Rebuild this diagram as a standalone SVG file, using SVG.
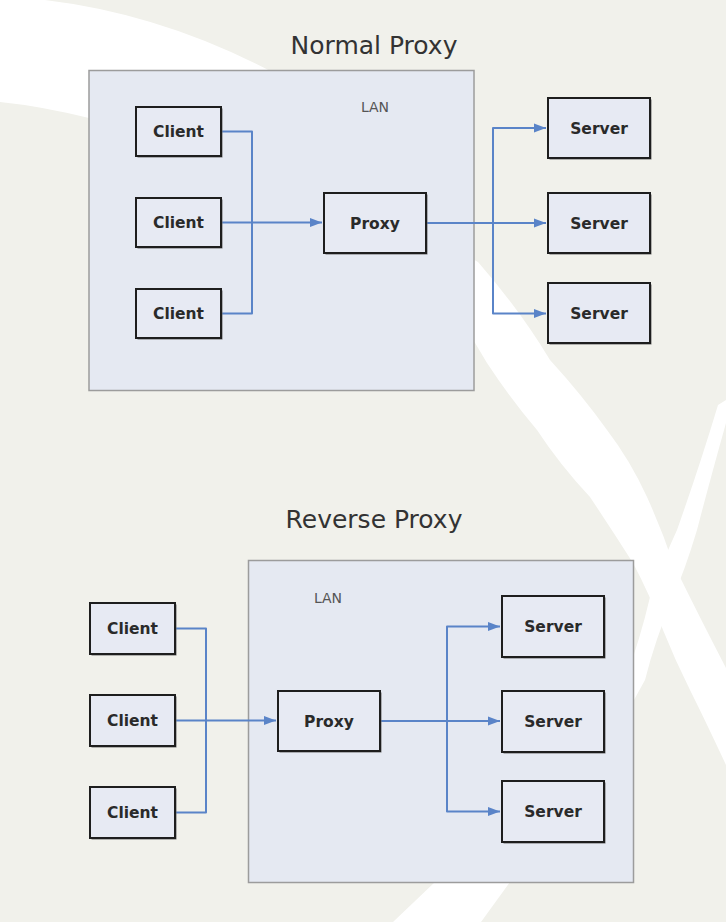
<svg xmlns="http://www.w3.org/2000/svg" width="726" height="922" viewBox="0 0 726 922">
<style>
.bg{fill:#f1f1eb}
.swoosh{fill:#ffffff}
.lan{fill:#e5e9f2;stroke:#9c9c9c;stroke-width:1.5}
.shadow{fill:#6e6e6e}
.box{fill:#e7eaf3;stroke:#1e1e1e;stroke-width:2}
.lbl{font-family:"DejaVu Sans","Liberation Sans",sans-serif;font-size:15.5px;font-weight:bold;fill:#2a2a2a;text-anchor:middle}
.title{font-family:"DejaVu Sans","Liberation Sans",sans-serif;font-size:25px;fill:#333333;text-anchor:middle}
.lantxt{font-family:"DejaVu Sans","Liberation Sans",sans-serif;font-size:14px;fill:#555;text-anchor:middle}
.wire{fill:none;stroke:#5a84c8;stroke-width:2;stroke-linejoin:round}
</style>
<defs>
<marker id="arr" markerUnits="userSpaceOnUse" markerWidth="12" markerHeight="10" viewBox="0 0 12 10" refX="12" refY="5" orient="auto">
<path d="M0,0.5 L12,5 L0,9.5 Z" fill="#5a84c8"/>
</marker>
</defs>
<g id="background">
<rect class="bg" x="0" y="0" width="726" height="922"/>
<path class="swoosh" d="M0,0 L45,0 Q162,14 272,72 L89,118 Q40,106 0,102 Z"/>
<path class="swoosh" d="M440,240 L478,262 Q520,310 550,360 Q582,395 607,430 Q630,460 647,497 Q662,530 673,563 Q700,618 726,668 L726,765 Q705,720 690,690 Q675,660 663,630 Q650,595 633,563 Q612,530 590,497 Q560,465 537,430 Q510,398 487,363 Q462,320 440,290 Z"/>
<path class="swoosh" d="M718,405 L726,400 L726,423 Q710,480 697,530 Q685,570 673,597 Q655,640 645,680 Q580,800 510,882 L481,922 L393,922 L435,882 Q560,780 625,680 Q640,640 650,597 Q663,560 677,530 Q700,465 718,405 Z"/>
</g>
<g id="title-normal"><text class="title" x="374" y="54">Normal Proxy</text></g>
<g id="lan-normal">
<rect class="lan" x="89" y="70.5" width="385" height="320"/>
<text class="lantxt" x="375" y="112">LAN</text>
</g>
<g id="connectors">
<path class="wire" d="M222,131.5 H252 V222.5"/>
<path class="wire" d="M222,313.5 H252 V222.5"/>
<path class="wire" d="M222,222.5 H322" marker-end="url(#arr)"/>
<path class="wire" d="M426,223 H546" marker-end="url(#arr)"/>
<path class="wire" d="M493,223 V128 H546" marker-end="url(#arr)"/>
<path class="wire" d="M493,223 V313.5 H546" marker-end="url(#arr)"/>
</g>
<g id="n-client1"><rect class="shadow" x="137.5" y="108.5" width="85" height="49"/><rect class="box" x="136" y="107" width="85" height="49"/><text class="lbl" x="178.5" y="137">Client</text></g>
<g id="n-client2"><rect class="shadow" x="137.5" y="199.5" width="85" height="49"/><rect class="box" x="136" y="198" width="85" height="49"/><text class="lbl" x="178.5" y="228">Client</text></g>
<g id="n-client3"><rect class="shadow" x="137.5" y="290.5" width="85" height="49"/><rect class="box" x="136" y="289" width="85" height="49"/><text class="lbl" x="178.5" y="319">Client</text></g>
<g id="n-proxy"><rect class="shadow" x="325.5" y="194.5" width="102" height="60"/><rect class="box" x="324" y="193" width="102" height="60"/><text class="lbl" x="375" y="228.5">Proxy</text></g>
<g id="n-server1"><rect class="shadow" x="549.5" y="99.5" width="102" height="60"/><rect class="box" x="548" y="98" width="102" height="60"/><text class="lbl" x="599" y="133.5">Server</text></g>
<g id="n-server2"><rect class="shadow" x="549.5" y="194.5" width="102" height="60"/><rect class="box" x="548" y="193" width="102" height="60"/><text class="lbl" x="599" y="228.5">Server</text></g>
<g id="n-server3"><rect class="shadow" x="549.5" y="284.5" width="102" height="60"/><rect class="box" x="548" y="283" width="102" height="60"/><text class="lbl" x="599" y="318.5">Server</text></g>

<g id="title-reverse"><text class="title" x="374" y="528">Reverse Proxy</text></g>
<g id="lan-reverse">
<rect class="lan" x="248.5" y="560.5" width="385" height="322"/>
<text class="lantxt" x="328" y="603">LAN</text>
</g>
<g id="connectors-reverse">
<path class="wire" d="M176,628.5 H206 V720.5"/>
<path class="wire" d="M176,812.5 H206 V720.5"/>
<path class="wire" d="M176,720.5 H276" marker-end="url(#arr)"/>
<path class="wire" d="M380,721 H500" marker-end="url(#arr)"/>
<path class="wire" d="M447,721 V626.5 H500" marker-end="url(#arr)"/>
<path class="wire" d="M447,721 V811.5 H500" marker-end="url(#arr)"/>
</g>
<g id="r-client1"><rect class="shadow" x="91.5" y="604.5" width="85" height="51"/><rect class="box" x="90" y="603" width="85" height="51"/><text class="lbl" x="132.5" y="634">Client</text></g>
<g id="r-client2"><rect class="shadow" x="91.5" y="696.5" width="85" height="51"/><rect class="box" x="90" y="695" width="85" height="51"/><text class="lbl" x="132.5" y="726">Client</text></g>
<g id="r-client3"><rect class="shadow" x="91.5" y="788.5" width="85" height="51"/><rect class="box" x="90" y="787" width="85" height="51"/><text class="lbl" x="132.5" y="818">Client</text></g>
<g id="r-proxy"><rect class="shadow" x="279.5" y="692.5" width="102" height="60"/><rect class="box" x="278" y="691" width="102" height="60"/><text class="lbl" x="329" y="726.5">Proxy</text></g>
<g id="r-server1"><rect class="shadow" x="503.5" y="597.5" width="102" height="61"/><rect class="box" x="502" y="596" width="102" height="61"/><text class="lbl" x="553" y="632">Server</text></g>
<g id="r-server2"><rect class="shadow" x="503.5" y="692.5" width="102" height="61"/><rect class="box" x="502" y="691" width="102" height="61"/><text class="lbl" x="553" y="727">Server</text></g>
<g id="r-server3"><rect class="shadow" x="503.5" y="782.5" width="102" height="61"/><rect class="box" x="502" y="781" width="102" height="61"/><text class="lbl" x="553" y="817">Server</text></g>
</svg>
